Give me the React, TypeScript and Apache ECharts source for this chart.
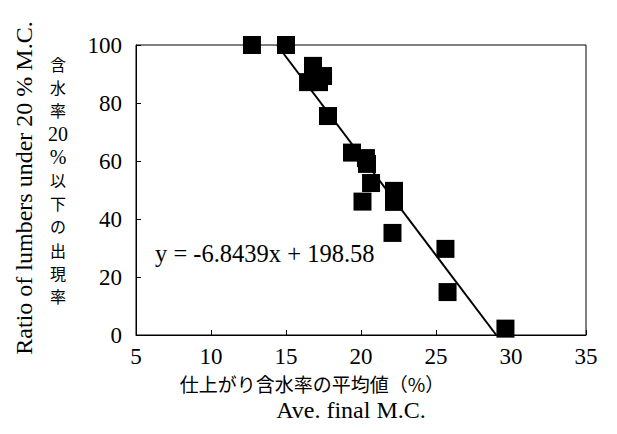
import React, { useEffect, useRef } from "react";
import * as echarts from "echarts";

// Data (Ave. final M.C. %, ratio of lumbers under 20% M.C. %)
const moistureContent: number[] = [
  12.73, 15.0, 16.8, 17.47, 16.47, 17.2, 17.8, 19.4, 20.33, 20.4, 20.67, 20.1,
  22.2, 22.2, 22.1, 25.63, 25.77, 29.63,
];
const ratioUnder20: number[] = [
  100, 100, 92.8, 89.3, 87.2, 87.2, 75.5, 62.9, 61.0, 59.0, 52.4, 46.0, 49.7,
  45.9, 35.2, 29.7, 14.8, 2.2,
];
// Regression: y = slope * x + intercept
const slope = -6.8439;
const intercept = 198.58;
const xTicks = [5, 10, 15, 20, 25, 30, 35];
const yTicks = [0, 20, 40, 60, 80, 100];
const equationLabel = "y = -6.8439x + 198.58";
const xTitleJa = "仕上がり含水率の平均値（%）";
const xTitleEn = "Ave. final M.C.";
const yTitleEn = "Ratio of lumbers under 20 % M.C.";
const yTitleJa = ["含", "水", "率", "20", "%", "以", "下", "の", "出", "現", "率"];

const SERIF = '"Liberation Serif", "DejaVu Serif", serif';
const CJK = '"Noto Sans CJK JP", sans-serif';

export default function App() {
  const ref = useRef<HTMLDivElement>(null);
  useEffect(() => {
    if (!ref.current) return;
    const chart = echarts.init(ref.current, undefined, { renderer: "svg" });
    const points = moistureContent.map((x, i) => [x, ratioUnder20[i]]);
    const yMax = yTicks[yTicks.length - 1];
    const yMin = yTicks[0];
    const trend = [
      [(yMax - intercept) / slope, yMax],
      [(yMin - intercept) / slope, yMin],
    ];
    const jaVertical = yTitleJa.map((ch, i) => {
      const latin = ch === "20" || ch === "%";
      return {
        type: "text",
        x: 58,
        y: 64 + i * 23.2,
        style: {
          text: ch,
          fill: "#000",
          font: latin ? `20px ${SERIF}` : `16px ${CJK}`,
          align: "center",
          verticalAlign: "middle",
        },
      };
    });
    chart.setOption({
      animation: false,
      backgroundColor: "#fff",
      grid: {
        left: 136,
        top: 45,
        width: 450,
        height: 290,
        show: true,
        borderColor: "#000",
        borderWidth: 1,
        backgroundColor: "transparent",
      },
      xAxis: {
        type: "value",
        min: xTicks[0],
        max: xTicks[xTicks.length - 1],
        interval: 5,
        axisLine: { show: true, onZero: false, lineStyle: { color: "#000", width: 1 } },
        axisTick: { show: true, inside: true, length: 5, lineStyle: { color: "#000" } },
        splitLine: { show: false },
        axisLabel: {
          color: "#000",
          fontFamily: SERIF,
          fontSize: 23,
          margin: 10,
        },
      },
      yAxis: {
        type: "value",
        min: yMin,
        max: yMax,
        interval: 20,
        axisLine: { show: true, onZero: false, lineStyle: { color: "#000", width: 1 } },
        axisTick: { show: true, inside: true, length: 5, lineStyle: { color: "#000" } },
        splitLine: { show: false },
        axisLabel: {
          color: "#000",
          fontFamily: SERIF,
          fontSize: 23,
          margin: 14,
        },
      },
      series: [
        {
          type: "line",
          data: trend,
          showSymbol: false,
          symbol: "none",
          lineStyle: { color: "#000", width: 2 },
          z: 2,
          silent: true,
        },
        {
          type: "scatter",
          data: points,
          symbol: "rect",
          symbolSize: 18,
          itemStyle: { color: "#000", opacity: 1 },
          z: 3,
        },
      ],
      graphic: [
        {
          type: "text",
          left: 155,
          top: 241,
          style: {
            text: equationLabel,
            fill: "#000",
            font: `24.5px ${SERIF}`,
          },
        },
        {
          type: "text",
          x: 24,
          y: 188,
          rotation: Math.PI / 2,
          style: {
            text: yTitleEn,
            fill: "#000",
            font: `24px ${SERIF}`,
            align: "center",
            verticalAlign: "middle",
          },
        },
        ...jaVertical,
        {
          type: "text",
          x: 312,
          y: 383,
          style: {
            text: xTitleJa,
            fill: "#000",
            font: `19px ${CJK}`,
            align: "center",
            verticalAlign: "middle",
          },
        },
        {
          type: "text",
          x: 351,
          y: 410,
          style: {
            text: xTitleEn,
            fill: "#000",
            font: `24px ${SERIF}`,
            align: "center",
            verticalAlign: "middle",
          },
        },
      ],
    });
    return () => chart.dispose();
  }, []);
  return (
    <div
      ref={ref}
      style={{ position: "fixed", left: 0, top: 0, width: 617, height: 434 }}
    />
  );
}
